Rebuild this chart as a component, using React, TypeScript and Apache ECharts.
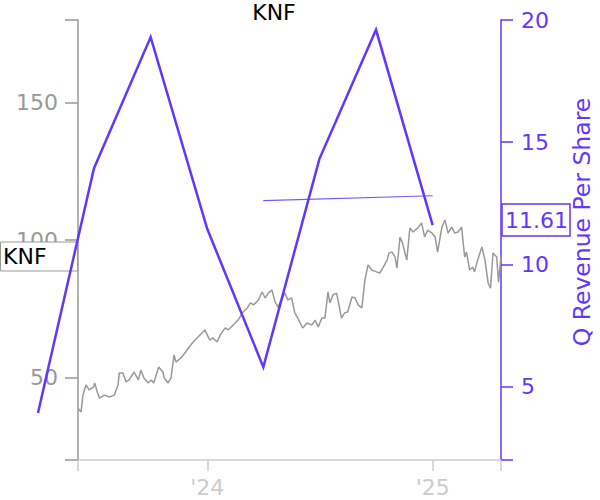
import React, { useEffect, useRef } from 'react';
import * as echarts from 'echarts';

const PURPLE = '#6236ff';
const GREY = '#999999';
const LIGHT = '#cccccc';

const tickerName = 'KNF';
const rightAxisName = 'Q Revenue Per Share';

const xRange = ['2023-06-05', '2025-04-22'];
const xTickDates = ['2023-06-05', '2024-01-01', '2025-01-01', '2025-04-22'];
const xLabelDates = ['2024-01-01', '2025-01-01'];

const leftTicks = [20, 50, 100, 150, 180];
const leftLabels = [50, 100, 150];
const rightTicks = [2, 5, 10, 15, 20];
const rightLabels = [5, 10, 15, 20];

const revenueDates = ['2023-04-01', '2023-07-01', '2023-10-01', '2024-01-01', '2024-04-01', '2024-07-01', '2024-10-01', '2025-01-01'];
const revenueValues = [3.92, 13.94, 19.3, 11.45, 5.8, 14.31, 19.6, 11.61];

const trendDates = ['2024-04-01', '2025-01-01'];
const trendValues = [12.61, 12.81];

const priceSeries: [string, number][] = [
  ['2023-06-05', 38.9], ['2023-06-07', 38.2], ['2023-06-10', 37.5], ['2023-06-13', 43.6], ['2023-06-18', 47.3],
  ['2023-06-23', 45.5], ['2023-06-30', 46.5], ['2023-07-02', 48.0], ['2023-07-08', 43.6], ['2023-07-10', 42.5],
  ['2023-07-18', 43.6], ['2023-07-26', 42.9], ['2023-08-03', 43.6], ['2023-08-09', 47.3], ['2023-08-11', 51.6],
  ['2023-08-17', 51.6], ['2023-08-22', 48.4], ['2023-08-27', 49.1], ['2023-09-04', 52.0], ['2023-09-11', 49.1],
  ['2023-09-15', 52.7], ['2023-09-20', 49.8], ['2023-09-27', 48.0], ['2023-10-02', 49.1], ['2023-10-06', 48.0],
  ['2023-10-14', 53.8], ['2023-10-21', 52.0], ['2023-10-23', 49.8], ['2023-10-29', 48.0], ['2023-11-03', 49.8],
  ['2023-11-08', 58.2], ['2023-11-11', 55.6], ['2023-11-19', 57.1], ['2023-11-27', 59.3], ['2023-11-29', 60.0],
  ['2023-12-09', 62.9], ['2023-12-17', 64.7], ['2023-12-28', 67.3],
  ['2024-01-05', 63.6], ['2024-01-10', 64.4], ['2024-01-17', 62.9], ['2024-01-22', 65.5], ['2024-01-30', 68.0],
  ['2024-02-04', 67.3], ['2024-02-12', 69.1], ['2024-02-20', 70.9], ['2024-02-28', 73.8], ['2024-03-06', 75.3],
  ['2024-03-11', 77.1], ['2024-03-16', 76.4], ['2024-03-24', 78.2], ['2024-03-30', 81.1], ['2024-04-04', 78.9],
  ['2024-04-09', 80.7], ['2024-04-15', 81.8], ['2024-04-20', 77.5], ['2024-04-25', 75.6], ['2024-05-01', 78.5],
  ['2024-05-06', 80.7], ['2024-05-11', 78.2], ['2024-05-17', 78.9], ['2024-05-22', 73.5], ['2024-05-27', 71.6],
  ['2024-06-04', 68.0], ['2024-06-11', 69.8], ['2024-06-19', 69.1], ['2024-06-24', 70.9], ['2024-06-29', 68.4],
  ['2024-07-05', 71.6], ['2024-07-10', 71.6], ['2024-07-15', 81.1], ['2024-07-18', 77.1], ['2024-07-23', 80.0],
  ['2024-07-29', 80.7], ['2024-08-06', 71.6], ['2024-08-11', 73.5], ['2024-08-16', 73.8], ['2024-08-23', 79.3],
  ['2024-08-28', 78.9], ['2024-09-02', 76.4], ['2024-09-08', 75.3], ['2024-09-13', 85.5], ['2024-09-18', 90.9],
  ['2024-09-24', 89.1], ['2024-10-02', 88.4], ['2024-10-07', 88.0], ['2024-10-12', 89.8], ['2024-10-19', 92.7],
  ['2024-10-22', 95.3], ['2024-10-27', 95.6], ['2024-11-01', 93.8], ['2024-11-04', 89.8], ['2024-11-09', 101.1],
  ['2024-11-13', 98.9], ['2024-11-20', 92.7], ['2024-11-25', 104.4], ['2024-11-30', 102.9], ['2024-12-08', 104.4],
  ['2024-12-14', 106.2], ['2024-12-19', 101.1], ['2024-12-24', 103.6], ['2024-12-31', 102.5],
  ['2025-01-05', 101.1], ['2025-01-09', 95.6], ['2025-01-16', 104.7], ['2025-01-21', 107.3], ['2025-01-26', 102.5],
  ['2025-02-01', 104.7], ['2025-02-06', 102.5], ['2025-02-11', 102.9], ['2025-02-17', 104.7], ['2025-02-22', 93.8],
  ['2025-02-25', 95.6], ['2025-03-02', 89.1], ['2025-03-07', 90.2], ['2025-03-10', 88.4], ['2025-03-15', 92.7],
  ['2025-03-22', 97.5], ['2025-03-27', 92.7], ['2025-04-01', 84.4], ['2025-04-05', 82.5], ['2025-04-09', 95.3],
  ['2025-04-15', 93.8], ['2025-04-18', 84.7], ['2025-04-22', 94.0],
];

const t = (s: string) => Date.parse(s + 'T00:00:00Z');
const FONT = 'DejaVu Sans';

export default function App() {
  const ref = useRef<HTMLDivElement>(null);
  useEffect(() => {
    document.body.style.margin = '0';
    const chart = echarts.init(ref.current!, null, { renderer: 'svg' });
    const revenuePoints = revenueDates.map((d, i) => [t(d), revenueValues[i]]);
    chart.setOption({
      animation: false,
      textStyle: { fontFamily: FONT },
      grid: { left: 78, right: 99, top: 20, bottom: 40, outerBoundsMode: 'none', containLabel: false },
      xAxis: {
        type: 'value',
        min: t(xRange[0]),
        max: t(xRange[1]),
        axisLine: { show: true, lineStyle: { color: LIGHT, width: 1.5 } },
        axisTick: { show: true, length: 11, lineStyle: { color: LIGHT, width: 1.5 }, customValues: xTickDates.map(t) },
        axisLabel: {
          color: LIGHT,
          fontSize: 22,
          fontFamily: FONT,
          margin: 16,
          customValues: xLabelDates.map(t),
          formatter: (v: number) => "'" + String(new Date(v).getUTCFullYear()).slice(2),
        },
        splitLine: { show: false },
      },
      yAxis: [
        {
          type: 'value',
          position: 'left',
          min: 20,
          max: 180,
          axisLine: { show: true, lineStyle: { color: GREY, width: 1.5 } },
          axisTick: { show: true, length: 13, lineStyle: { color: GREY, width: 1.5 }, customValues: leftTicks },
          axisLabel: { color: GREY, fontSize: 22, fontFamily: FONT, margin: 20, customValues: leftLabels },
          splitLine: { show: false },
        },
        {
          type: 'value',
          position: 'right',
          min: 2,
          max: 20,
          name: rightAxisName,
          nameLocation: 'middle',
          nameRotate: 90,
          nameGap: 69,
          nameTextStyle: { color: PURPLE, fontSize: 23.5, fontFamily: FONT, padding: [0, 0, 0, 36] },
          axisLine: { show: true, lineStyle: { color: PURPLE, width: 1.5 } },
          axisTick: { show: true, length: 12, lineStyle: { color: PURPLE, width: 1.5 }, customValues: rightTicks },
          axisLabel: { color: PURPLE, fontSize: 22, fontFamily: FONT, margin: 20, customValues: rightLabels },
          splitLine: { show: false },
        },
      ],
      series: [
        {
          type: 'line',
          yAxisIndex: 0,
          data: priceSeries.map(([d, v]) => [t(d), v]),
          showSymbol: false,
          lineStyle: { color: GREY, width: 1.5 },
          z: 2,
        },
        {
          type: 'line',
          yAxisIndex: 1,
          data: trendDates.map((d, i) => [t(d), trendValues[i]]),
          showSymbol: false,
          lineStyle: { color: PURPLE, width: 1.2, opacity: 0.85 },
          z: 3,
        },
        {
          type: 'custom',
          yAxisIndex: 1,
          clip: false,
          data: revenuePoints,
          encode: { x: 0, y: 1 },
          z: 4,
          renderItem: (params: any, api: any) => {
            if (params.dataIndex !== revenuePoints.length - 1) return null;
            const pts = revenuePoints.map((p) => api.coord(p));
            return {
              type: 'polyline',
              shape: { points: pts },
              style: { stroke: PURPLE, lineWidth: 2.5, fill: 'none', lineJoin: 'miter' },
            };
          },
        },
      ],
    });

    const lastPrice = priceSeries[priceSeries.length - 1][1];
    const lastRev = revenueValues[revenueValues.length - 1];
    const yL = chart.convertToPixel({ yAxisIndex: 0 }, lastPrice) as number;
    const yR = chart.convertToPixel({ yAxisIndex: 1 }, lastRev) as number;

    chart.setOption({
      graphic: [
        {
          type: 'text',
          x: 274,
          y: 12,
          z: 10,
          style: { text: tickerName, fontSize: 22, fontFamily: FONT, fill: '#000', align: 'center', verticalAlign: 'middle' },
        },
        {
          type: 'rect',
          z: 1,
          shape: { x: 0.5, y: yL - 14.5, width: 77, height: 29 },
          style: { fill: '#fff', stroke: GREY, lineWidth: 1 },
        },
        {
          type: 'text',
          z: 1,
          x: 3,
          y: yL,
          style: { text: tickerName, fontSize: 22, fontFamily: FONT, fill: '#000', verticalAlign: 'middle' },
        },
        {
          type: 'rect',
          z: 10,
          shape: { x: 502, y: yR - 21, width: 68, height: 32 },
          style: { fill: '#fff', stroke: PURPLE, lineWidth: 1.5 },
        },
        {
          type: 'text',
          z: 10,
          x: 505,
          y: yR - 5,
          style: { text: lastRev.toFixed(2), fontSize: 22, fontFamily: FONT, fill: PURPLE, verticalAlign: 'middle' },
        },
      ],
    });

    return () => chart.dispose();
  }, []);
  return <div ref={ref} style={{ width: 600, height: 500 }} />;
}
